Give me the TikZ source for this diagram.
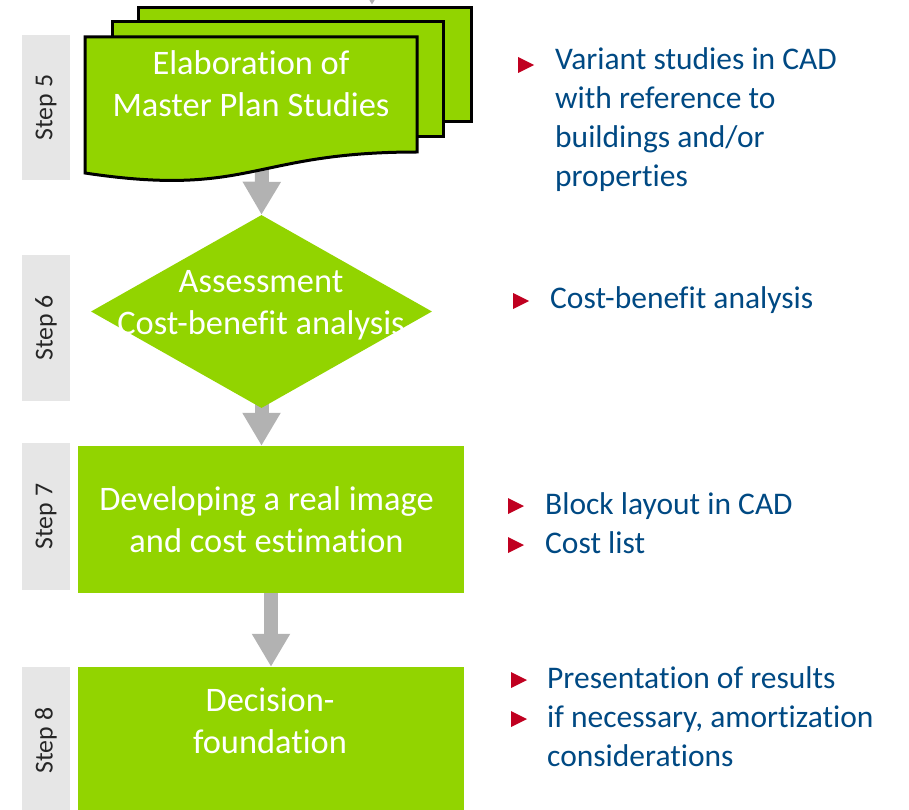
\documentclass[tikz,border=0pt]{standalone}
\usepackage{fontspec}
\setmainfont{Carlito}[Ligatures={NoCommon}]
\usetikzlibrary{arrows.meta,shapes.geometric,backgrounds}

\definecolor{stepgreen}{RGB}{146,212,0}
\definecolor{stepgrey}{RGB}{230,230,230}
\definecolor{arrowgrey}{RGB}{178,178,178}
\definecolor{noteblue}{RGB}{0,73,131}
\definecolor{bulletred}{RGB}{192,0,32}

\tikzset{
  stepbar/.style={fill=stepgrey, rotate=90, minimum height=48, inner sep=0,
    text=black!85, font=\fontsize{25.8}{30}\selectfont},
  page/.style={fill=stepgreen, draw=black, line width=3pt},
  greenbox/.style={fill=stepgreen, inner sep=0},
  flowtext/.style={text=white, font=\fontsize{34.4}{42}\selectfont, align=center,
    anchor=base, inner sep=0},
  note/.style={text=noteblue, font=\fontsize{31.5}{39}\selectfont, anchor=base west,
    inner sep=0},
  bullet/.style={fill=bulletred},
  flow/.style={draw=arrowgrey, line width=14pt,
    -{Triangle[length=33pt, width=36pt]}}
}

\begin{document}
\begin{tikzpicture}[x=1pt, y=-1pt]
\useasboundingbox (0,0) rectangle (909,810);

% step labels
\foreach \n/\y/\h in {5/107.5/145, 6/328/146, 7/516.5/147, 8/740.5/147}
  \node [stepbar, minimum width=\h] (step-\n) at (46,\y) {Step \n};

% incoming arrow from step 4
\coordinate (from4) at (372,-60);
\coordinate (to5) at (372,5);
\draw [flow] (from4) -- (to5);

% stacked documents
\filldraw [page] (138,8) rectangle (471,122);
\filldraw [page] (112,22) rectangle (443,137);
\filldraw [page] (85,37) -- (417,37) -- (417,152)
  .. controls (251,152) and (251,198) .. (85,173) -- cycle;
\coordinate (doc5) at (262,150);

\node [greenbox, diamond, minimum width=341, minimum height=193] (assess) at (261.5,311.5) {};
\node [greenbox, minimum width=386, minimum height=147] (real) at (271,519.5) {};
\node [greenbox, minimum width=386, minimum height=147] (decide) at (271,740.5) {};

\begin{scope}[on background layer]
\draw [flow] (doc5) -- (assess.north);
\draw [flow] (assess.center) -- (assess.center |- real.north);
\draw [flow] (real.center) -- (decide.north);
\end{scope}

\node [flowtext] (t5) at (251,117) {Elaboration of\\Master Plan Studies};
\node [flowtext] (t6) at (261,334) {Assessment\\Cost-benefit analysis};
\node [flowtext] (t7) at (266.5,552) {Developing a real image\\and cost estimation};
\node [flowtext] (t8) at (270,753) {Decision-\\foundation};

% notes on the right
\foreach \t [count=\i from 0] in {Variant studies in CAD, with reference to, buildings and/or, properties}
  \node [note] (n5-\i) at (555,70+39*\i) {\t};
\node [note] (n6-0) at (550,308) {Cost-benefit analysis};
\foreach \t [count=\i from 0] in {Block layout in CAD, Cost list}
  \node [note] (n7-\i) at (545,514+39*\i) {\t};
\foreach \t [count=\i from 0] in {Presentation of results, {if necessary, amortization}, considerations}
  \node [note] (n8-\i) at (547,688+39*\i) {\t};

\foreach \x/\y in {518/57, 513/293, 508/498, 508/537, 511/672, 511/711}
  \fill [bullet] (\x,\y) -- ++(16,8) -- ++(-16,8) -- cycle;
\end{tikzpicture}
\end{document}
